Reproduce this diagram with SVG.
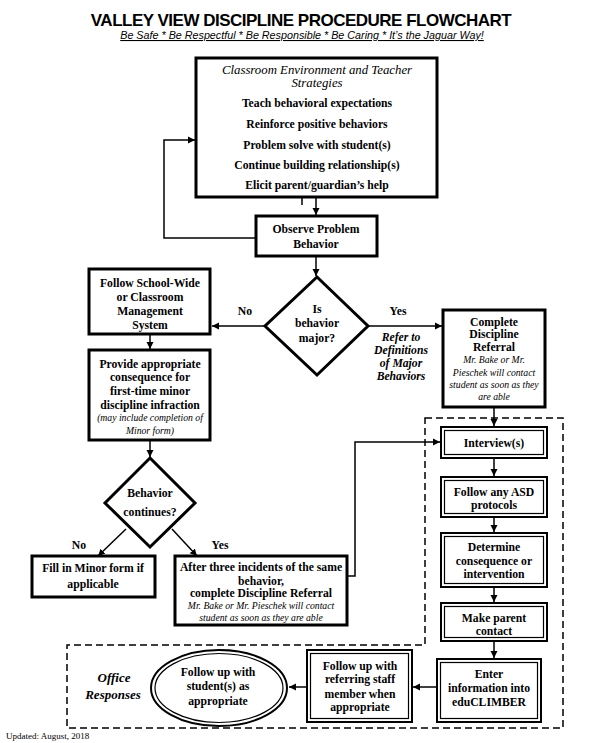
<svg xmlns="http://www.w3.org/2000/svg" width="597" height="743" viewBox="0 0 597 743">
<defs>
<marker id="ah" markerUnits="userSpaceOnUse" markerWidth="8" markerHeight="8" refX="7" refY="4" orient="auto">
<path d="M0,0.5 L7,4 L0,7.5 z" fill="#000"/>
</marker>
<style>
.t{font-family:"Liberation Serif",serif;font-weight:bold;font-size:11.7px;text-anchor:middle;fill:#000}
.it{font-family:"Liberation Serif",serif;font-style:italic;font-size:9.7px;text-anchor:middle;fill:#000}
.hi{font-family:"Liberation Serif",serif;font-style:italic;font-size:12.8px;text-anchor:middle;fill:#000}
.bi{font-family:"Liberation Serif",serif;font-style:italic;font-weight:bold;font-size:11.7px;text-anchor:middle;fill:#000}
.box{fill:#fff;stroke:#000;stroke-width:3}
.o{fill:#fff;stroke:#000;stroke-width:2}
.in{fill:none;stroke:#000;stroke-width:1.2}
.c{fill:none;stroke:#000;stroke-width:1.5}
.a{fill:none;stroke:#000;stroke-width:1.5;marker-end:url(#ah)}
.dash{fill:none;stroke:#000;stroke-width:1.5;stroke-dasharray:7,4}
</style>
</defs>
<rect width="597" height="743" fill="#fff"/>

<g id="title">
<text x="301" y="26" style="font-family:'Liberation Sans',Arial,sans-serif;font-weight:bold;font-size:17px;letter-spacing:-0.5px;text-anchor:middle">VALLEY VIEW DISCIPLINE PROCEDURE FLOWCHART</text>
<text x="302" y="39" style="font-family:'Liberation Sans',Arial,sans-serif;font-style:italic;font-size:10.75px;text-anchor:middle;text-decoration:underline">Be Safe * Be Respectful * Be Responsible * Be Caring * It’s the Jaguar Way!</text>
</g>

<g id="office-area">
<path class="dash" d="M425,418 H563 V728 H67 V645 H425 Z"/>
</g>

<g id="connectors">
<line class="a" x1="316" y1="197" x2="316" y2="215"/>
<line class="c" x1="302" y1="188" x2="302" y2="205" stroke-width="1"/>
<polyline class="a" points="256,238 164,238 164,140 195,140"/>
<line class="a" x1="316" y1="256" x2="316" y2="276"/>
<line class="a" x1="265" y1="326" x2="212" y2="326"/>
<line class="a" x1="368" y1="326" x2="442" y2="326"/>
<line class="a" x1="150" y1="334" x2="150" y2="349"/>
<line class="a" x1="150" y1="440" x2="150" y2="457"/>
<line class="a" x1="126" y1="529" x2="98" y2="556"/>
<line class="a" x1="172" y1="529" x2="197" y2="556"/>
<polyline class="a" points="347,576 355,576 355,442 440,442"/>
<line class="a" x1="494" y1="407" x2="494" y2="426"/>
<line class="a" x1="494" y1="458" x2="494" y2="476"/>
<line class="a" x1="494" y1="517" x2="494" y2="532"/>
<line class="a" x1="494" y1="587" x2="494" y2="602"/>
<line class="a" x1="494" y1="641" x2="494" y2="658"/>
<line class="a" x1="437" y1="687" x2="413" y2="687"/>
<line class="a" x1="307" y1="687" x2="289" y2="687"/>
</g>

<g id="labels">
<text class="t" x="245" y="315">No</text>
<text class="t" x="398" y="315">Yes</text>
<text class="bi" x="401" y="341">Refer to</text>
<text class="bi" x="401" y="354">Definitions</text>
<text class="bi" x="401" y="367">of Major</text>
<text class="bi" x="401" y="380">Behaviors</text>
<text class="t" x="79" y="549">No</text>
<text class="t" x="220" y="549">Yes</text>
<text class="bi" x="114" y="682" style="font-size:13px">Office</text>
<text class="bi" x="113" y="699" style="font-size:13px">Responses</text>
<text x="6" y="739" style="font-family:'Liberation Serif',serif;font-size:9px">Updated: August, 2018</text>
</g>

<g id="classroom">
<rect class="box" x="196" y="58" width="241" height="139"/>
<text class="hi" x="317" y="74">Classroom Environment and Teacher</text>
<text class="hi" x="317" y="87">Strategies</text>
<text class="t" x="317" y="107">Teach behavioral expectations</text>
<text class="t" x="317" y="128">Reinforce positive behaviors</text>
<text class="t" x="317" y="149">Problem solve with student(s)</text>
<text class="t" x="317" y="169">Continue building relationship(s)</text>
<text class="t" x="317" y="189">Elicit parent/guardian’s help</text>
</g>

<g id="observe">
<rect class="box" x="256" y="216" width="121" height="40"/>
<text class="t" x="316" y="233">Observe Problem</text>
<text class="t" x="316" y="248">Behavior</text>
</g>

<g id="major">
<polygon class="box" points="317,277 368,326 317,375 265,326"/>
<text class="t" x="317" y="313">Is</text>
<text class="t" x="317" y="327">behavior</text>
<text class="t" x="317" y="342">major?</text>
</g>

<g id="schoolwide">
<rect class="box" x="89" y="269" width="121" height="65"/>
<text class="t" x="150" y="287">Follow School-Wide</text>
<text class="t" x="150" y="301">or Classroom</text>
<text class="t" x="150" y="315">Management</text>
<text class="t" x="150" y="329">System</text>
</g>

<g id="referral">
<rect class="box" x="443" y="310" width="102" height="97"/>
<text class="t" x="494" y="326">Complete</text>
<text class="t" x="494" y="338">Discipline</text>
<text class="t" x="494" y="351">Referral</text>
<text class="it" x="494" y="363">Mr. Bake or Mr.</text>
<text class="it" x="494" y="376">Pieschek will contact</text>
<text class="it" x="494" y="388">student as soon as they</text>
<text class="it" x="494" y="400">are able</text>
</g>

<g id="provide">
<rect class="box" x="89" y="350" width="121" height="90"/>
<text class="t" x="150" y="368">Provide appropriate</text>
<text class="t" x="150" y="381">consequence for</text>
<text class="t" x="150" y="395">first-time minor</text>
<text class="t" x="150" y="409">discipline infraction</text>
<text class="it" x="150" y="421">(may include completion of</text>
<text class="it" x="150" y="434">Minor form)</text>
</g>

<g id="continues">
<polygon class="box" points="150,458 195,503 150,547 105,503"/>
<text class="t" x="150" y="497">Behavior</text>
<text class="t" x="150" y="516">continues?</text>
</g>

<g id="fillminor">
<rect class="box" x="32" y="556" width="123" height="41"/>
<text class="t" x="93" y="572">Fill in Minor form if</text>
<text class="t" x="93" y="588">applicable</text>
</g>

<g id="afterthree">
<rect class="box" x="175" y="556" width="172" height="69"/>
<text class="t" x="261" y="571">After three incidents of the same</text>
<text class="t" x="261" y="585">behavior,</text>
<text class="t" x="261" y="597">complete Discipline Referral</text>
<text class="it" x="261" y="609">Mr. Bake or Mr. Pieschek will contact</text>
<text class="it" x="261" y="621">student as soon as they are able</text>
</g>

<g id="interview">
<rect class="o" x="441" y="427" width="106" height="31"/>
<rect class="in" x="444.5" y="430.5" width="99" height="24"/>
<text class="t" x="494" y="447">Interview(s)</text>
</g>

<g id="asd">
<rect class="o" x="441" y="477" width="106" height="40"/>
<rect class="in" x="444.5" y="480.5" width="99" height="33"/>
<text class="t" x="494" y="496">Follow any ASD</text>
<text class="t" x="494" y="509">protocols</text>
</g>

<g id="determine">
<rect class="o" x="441" y="533" width="106" height="54"/>
<rect class="in" x="444.5" y="536.5" width="99" height="47"/>
<text class="t" x="494" y="551">Determine</text>
<text class="t" x="494" y="565">consequence or</text>
<text class="t" x="494" y="578">intervention</text>
</g>

<g id="parent">
<rect class="o" x="441" y="603" width="106" height="38"/>
<rect class="in" x="444.5" y="606.5" width="99" height="31"/>
<text class="t" x="494" y="622">Make parent</text>
<text class="t" x="494" y="635">contact</text>
</g>

<g id="educlimber">
<rect class="o" x="437" y="659" width="104" height="63"/>
<rect class="in" x="440.5" y="662.5" width="97" height="56"/>
<text class="t" x="489" y="678">Enter</text>
<text class="t" x="489" y="692">information into</text>
<text class="t" x="489" y="706">eduCLIMBER</text>
</g>

<g id="staff">
<rect class="o" x="307" y="650" width="105" height="72"/>
<rect class="in" x="310.5" y="653.5" width="98" height="65"/>
<text class="t" x="360" y="670">Follow up with</text>
<text class="t" x="360" y="683">referring staff</text>
<text class="t" x="360" y="698">member when</text>
<text class="t" x="360" y="711">appropriate</text>
</g>

<g id="student">
<ellipse class="o" cx="219" cy="688" rx="68" ry="38"/>
<ellipse class="in" cx="219" cy="688" rx="64" ry="34.5"/>
<text class="t" x="218" y="676">Follow up with</text>
<text class="t" x="218" y="690">student(s) as</text>
<text class="t" x="218" y="705">appropriate</text>
</g>
</svg>
